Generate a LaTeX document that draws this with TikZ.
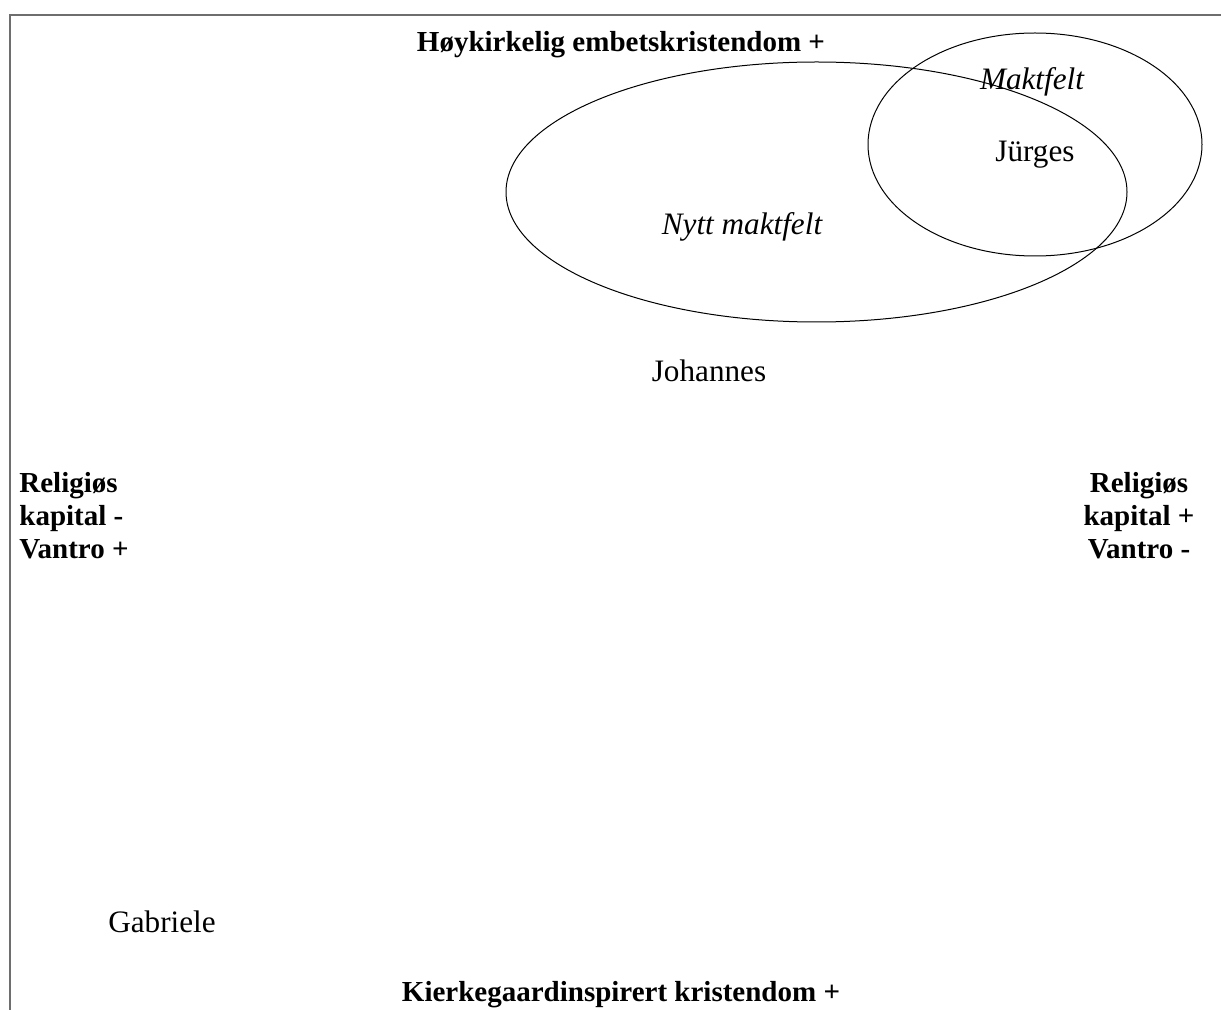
\documentclass[tikz,border=0pt]{standalone}
\usepackage{fontspec}
\setmainfont{Liberation Serif}
\usepackage{tikz}
\definecolor{myGray}{RGB}{110,110,110}

\begin{document}
\begin{tikzpicture}[%
	x=0.5pt,y=-0.5pt,
	every node/.style={
		inner sep=0pt,
		font=\fontsize{15.6}{16.5}\selectfont,
	},
	axislabel/.style={
		font=\fontsize{14.5}{16.5}\selectfont\bfseries,
	},
	field/.style={
		font=\fontsize{15.6}{16.5}\selectfont\itshape,
	},
	]
	\useasboundingbox (0,0) rectangle (1221,1010);
	
	% draw frame (top and left edge)
	\draw[myGray, line width=1.1pt] (10,1010) -- (10,15) -- (1221,15);
	
	% draw fields
	\draw[line width=0.5pt] (816.5,192) ellipse [x radius=155.25pt, y radius=65pt];
	\draw[line width=0.5pt] (1035,144.5) ellipse [x radius=83.5pt, y radius=55.75pt];
	
	% place axis labels
	\node[axislabel, anchor=base] (top) at (621,52) {Høykirkelig embetskristendom +};
	\node[axislabel, anchor=base] (bottom) at (621,1001) {Kierkegaardinspirert kristendom +};
	\node[axislabel, anchor=north west, align=left] (left) at (19,472)
		{Religiøs\\kapital -\\Vantro +};
	\node[axislabel, anchor=north, align=center] (right) at (1139,472)
		{Religiøs\\kapital +\\Vantro -};
	
	% place field labels
	\node[field, anchor=base] (maktfelt) at (1032,90) {Maktfelt};
	\node[field, anchor=base] (nytt) at (742,235) {Nytt maktfelt};
	
	% place agents
	\node[anchor=base] (jurges) at (1035,162) {Jürges};
	\node[anchor=base] (johannes) at (709,382) {Johannes};
	\node[anchor=base] (gabriele) at (162,932) {Gabriele};
\end{tikzpicture}
\end{document}
